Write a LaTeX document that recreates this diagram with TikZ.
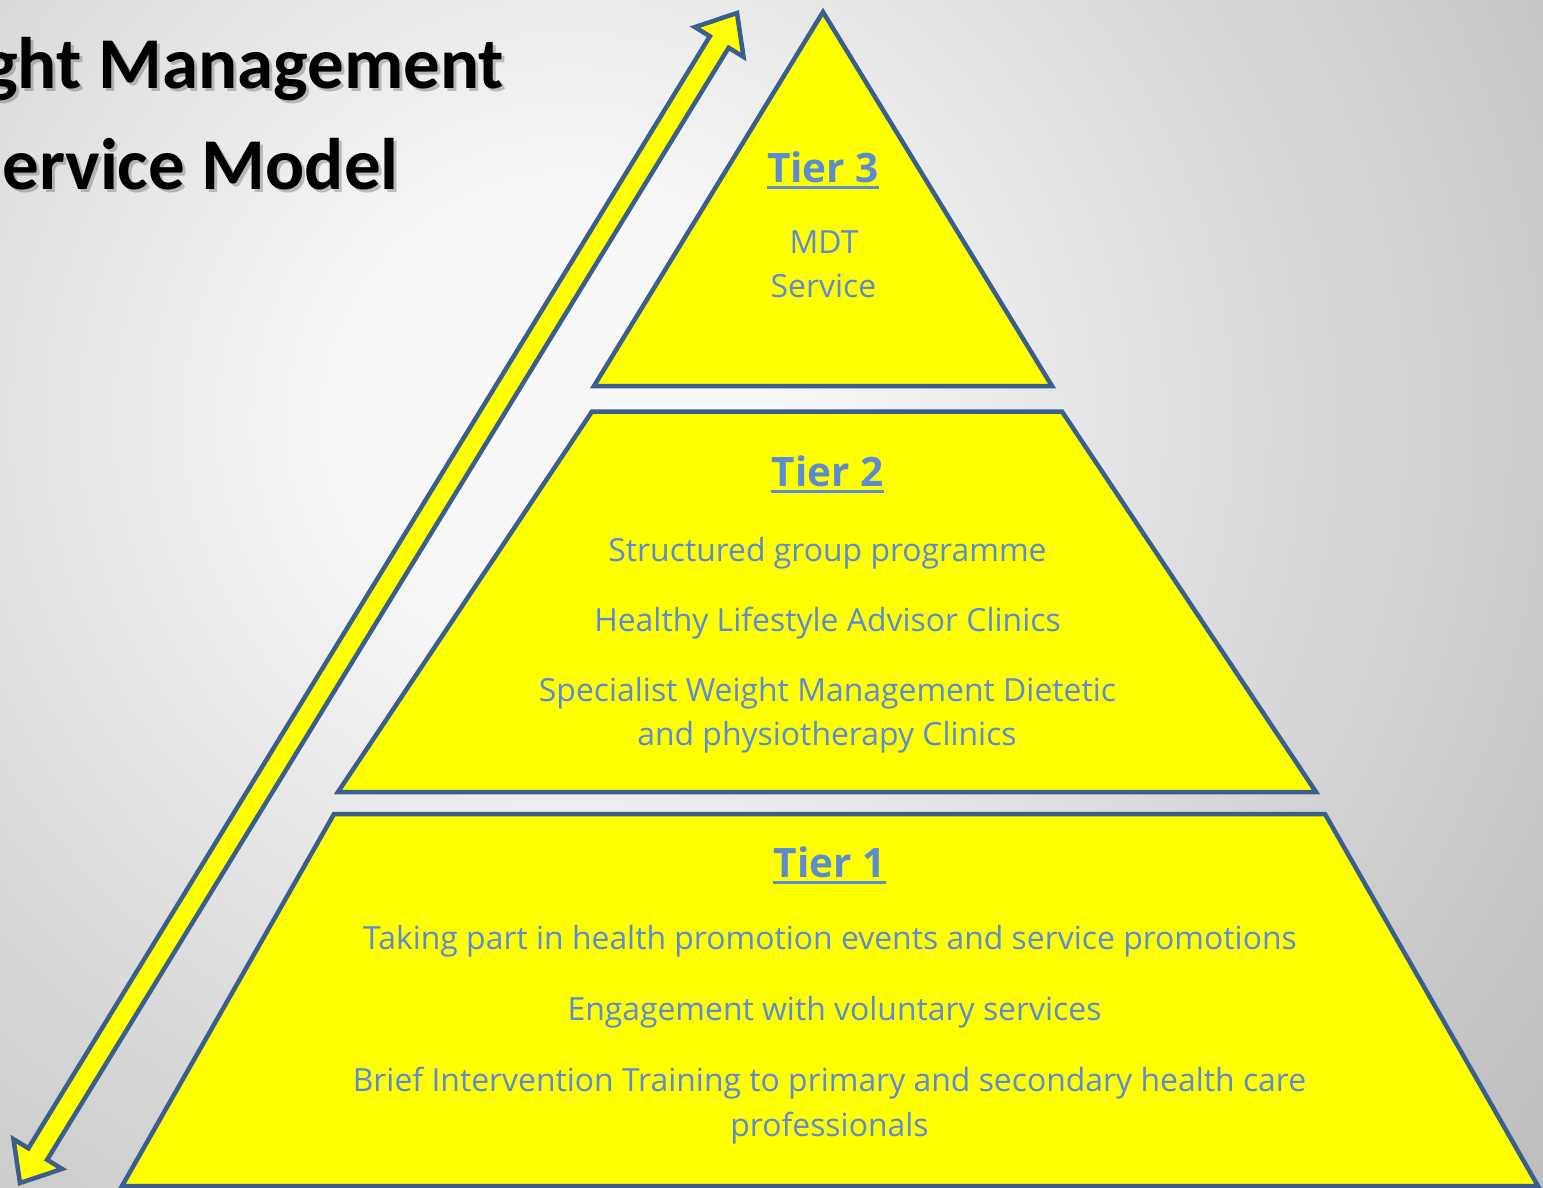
\documentclass[tikz,border=0pt]{standalone}
\usepackage{fontspec}
\usetikzlibrary{calc}
\newfontfamily\titlefont{Carlito}
\newfontfamily\bodyfont{Open Sans}
\definecolor{bgA}{HTML}{F8F8F8}
\definecolor{bgM}{HTML}{C6C6C6}
\definecolor{bgB}{HTML}{A4A4A4}
\definecolor{edgeblue}{HTML}{3A5F8E}
\definecolor{tierfill}{HTML}{FFFF00}
\definecolor{txtblue}{HTML}{5A8BD3}
\pgfdeclareradialshading{bgshade}{\pgfpoint{0bp}{0bp}}{color(0bp)=(bgA); color(3.1bp)=(bgA); color(16.9bp)=(bgM); color(29.2bp)=(bgB); color(50bp)=(bgB)}
\begin{document}
\begin{tikzpicture}[x=1pt,y=-1pt,
  tier/.style={draw=edgeblue, line width=4.5pt, fill=tierfill, line join=miter},
  body/.style={text=txtblue, font=\bodyfont\fontsize{31.9}{38}\selectfont, inner sep=0pt, anchor=base},
  head/.style={text=txtblue, font=\bodyfont\bfseries\fontsize{40.5}{46}\selectfont, inner sep=0pt, anchor=base},
  uline/.style={draw=txtblue, line width=3pt},
  titletext/.style={font=\titlefont\bfseries\fontsize{73}{88}\selectfont, inner sep=0pt, anchor=base east},
  shadowtext/.style={titletext, text=black, opacity=0.22}]

\useasboundingbox (0,0) rectangle (1543,1187);
\begin{scope}
  \clip (0,0) rectangle (1543,1187);
  \fill[bgB] (0,0) rectangle (1543,1187);
  \shade[shading=bgshade] (570,420) circle (1560pt);
\end{scope}

% title
\node[shadowtext] (t1s) at (507,91) {ght Management};
\node[shadowtext] (t2s) at (402,192) {ervice Model};
\node[titletext] (t1) at (504,88) {ght Management};
\node[titletext] (t2) at (399,189) {ervice Model};

% double arrow
\coordinate (AB) at (20,1183);
\coordinate (AT) at (737,13);
\coordinate (HB) at ($(AB)!34pt!(AT)$);
\coordinate (HT) at ($(AT)!34pt!(AB)$);
\draw[tier] (AB) -- ($(HB)!28.5pt!90:(AT)$) -- ($(HB)!11pt!90:(AT)$)
  -- ($(HT)!11pt!-90:(AB)$) -- ($(HT)!28.5pt!-90:(AB)$) -- (AT)
  -- ($(HT)!28.5pt!90:(AB)$) -- ($(HT)!11pt!90:(AB)$)
  -- ($(HB)!11pt!-90:(AT)$) -- ($(HB)!28.5pt!-90:(AT)$) -- cycle;

% tiers
\draw[tier] (823,12) -- (1052,386) -- (594,386) -- cycle;
\draw[tier] (592,411.5) -- (1062,411.5) -- (1316,792) -- (338,792) -- cycle;
\draw[tier] (334,814) -- (1325,814) -- (1538,1186) -- (122,1186) -- cycle;

% tier 3 text
\node[head] (h3) at (823,182) {Tier 3};
\draw[uline] ([yshift=-5pt]h3.base west) -- ([yshift=-5pt]h3.base east);
\node[body] (m1) at (824,253) {MDT};
\node[body] (m2) at (823.5,297) {Service};

% tier 2 text
\node[head] (h2) at (827.5,486) {Tier 2};
\draw[uline] ([yshift=-5pt]h2.base west) -- ([yshift=-5pt]h2.base east);
\node[body] (s1) at (827.5,561) {Structured group programme};
\node[body] (s2) at (827.5,631) {Healthy Lifestyle Advisor Clinics};
\node[body] (s3) at (827.5,701) {Specialist Weight Management Dietetic};
\node[body] (s4) at (827,745) {and physiotherapy Clinics};

% tier 1 text
\node[head] (h1) at (829.5,877) {Tier 1};
\draw[uline] ([yshift=-5pt]h1.base west) -- ([yshift=-5pt]h1.base east);
\node[body] (p1) at (830,949) {Taking part in health promotion events and service promotions};
\node[body] (p2) at (834.5,1020) {Engagement with voluntary services};
\node[body] (p3) at (829.5,1091) {Brief Intervention Training to primary and secondary health care};
\node[body] (p4) at (829.5,1136) {professionals};
\end{tikzpicture}
\end{document}
